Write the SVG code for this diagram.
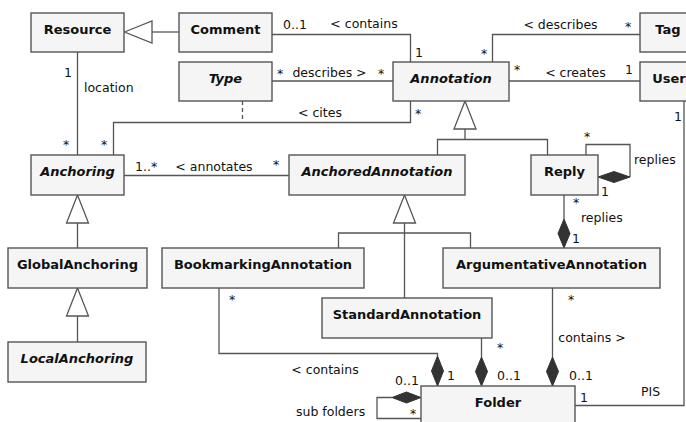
<svg xmlns="http://www.w3.org/2000/svg" width="686" height="422" viewBox="0 0 686 422">
<style>
.box{fill:#f5f5f5;stroke:#555;stroke-width:1.4}
.nm{font-family:"DejaVu Sans",Verdana,sans-serif;font-size:13px;font-weight:bold;fill:#111;text-anchor:middle}
.it{font-style:italic}
.ln{fill:none;stroke:#555;stroke-width:1.3}
.dash{fill:none;stroke:#555;stroke-width:1.3;stroke-dasharray:4 3}
.gen{fill:#fff;stroke:#555;stroke-width:1.3}
.dia{fill:#333;stroke:#333;stroke-width:1}
.lb{font-family:"DejaVu Sans",Verdana,sans-serif;font-size:12.5px;fill:#111}
.mid{text-anchor:middle}
</style>
<rect width="686" height="422" fill="#fff"/>
<g id="connectors">
  <line class="ln" x1="152" y1="32" x2="179" y2="32"/>
  <polygon class="gen" points="124.5,32 152,21 152,43"/>
  <polyline class="ln" points="272,34.5 410.5,34.5 410.5,62"/>
  <line class="ln" x1="272" y1="81" x2="393" y2="81"/>
  <polyline class="ln" points="410.5,101 410.5,122.5 113.5,122.5 113.5,155"/>
  <line class="dash" x1="242.5" y1="101" x2="242.5" y2="122"/>
  <line class="ln" x1="77.5" y1="52" x2="77.5" y2="155"/>
  <polyline class="ln" points="640,34.5 492.5,34.5 492.5,62"/>
  <line class="ln" x1="509" y1="81" x2="640" y2="81"/>
  <polyline class="ln" points="684,101 684,405.5 575,405.5"/>
  <polyline class="ln" points="437.5,155 437.5,139.5 547.5,139.5 547.5,155"/>
  <line class="ln" x1="465" y1="129" x2="465" y2="139.5"/>
  <polygon class="gen" points="465,101 454,129 476,129"/>
  <line class="ln" x1="124" y1="175.5" x2="289" y2="175.5"/>
  <line class="ln" x1="77.5" y1="223" x2="77.5" y2="248"/>
  <polygon class="gen" points="77.5,195 66.5,223 88.5,223"/>
  <line class="ln" x1="77.5" y1="316" x2="77.5" y2="342"/>
  <polygon class="gen" points="77.5,288 66.5,316 88.5,316"/>
  <polyline class="ln" points="338.5,248 338.5,233 470.5,233 470.5,248"/>
  <line class="ln" x1="404.5" y1="223" x2="404.5" y2="298"/>
  <polygon class="gen" points="404.5,195 393.5,223 415.5,223"/>
  <polyline class="ln" points="586,155 586,144.5 630,144.5 630,177"/>
  <polygon class="dia" points="598,177 614,171.5 630,177 614,182.5"/>
  <line class="ln" x1="564" y1="195" x2="564" y2="219"/>
  <polygon class="dia" points="564,219 570,233.5 564,248 558,233.5"/>
  <polyline class="ln" points="219,288 219,353.5 437.5,353.5 437.5,356"/>
  <polygon class="dia" points="437.5,356 443.5,371 437.5,386 431.5,371"/>
  <line class="ln" x1="481.5" y1="338" x2="481.5" y2="357"/>
  <polygon class="dia" points="481.5,357 487.5,371.5 481.5,386 475.5,371.5"/>
  <line class="ln" x1="552.5" y1="288" x2="552.5" y2="357"/>
  <polygon class="dia" points="552.5,357 558.5,371.5 552.5,386 546.5,371.5"/>
  <polyline class="ln" points="392,397.5 377,397.5 377,418.5 421,418.5"/>
  <polygon class="dia" points="421,397.5 406.5,392 392,397.5 406.5,403"/>
</g>

<g id="Resource"><rect class="box" x="31" y="13" width="93" height="39"/><text class="nm" x="77.5" y="33.5">Resource</text></g>
<g id="Comment"><rect class="box" x="179" y="13" width="93" height="39"/><text class="nm" x="225.5" y="33.5">Comment</text></g>
<g id="Type"><rect class="box" x="179" y="62" width="93" height="39"/><text class="nm it" x="225.5" y="82.5">Type</text></g>
<g id="Annotation"><rect class="box" x="393" y="62" width="116" height="39"/><text class="nm it" x="451" y="82.5">Annotation</text></g>
<g id="Tag"><rect class="box" x="640" y="13" width="56" height="39"/><text class="nm" x="668" y="33.5">Tag</text></g>
<g id="User"><rect class="box" x="640" y="62" width="58" height="39"/><text class="nm" x="669" y="82.5">User</text></g>
<g id="Anchoring"><rect class="box" x="31" y="155" width="93" height="40"/><text class="nm it" x="77.5" y="175.5">Anchoring</text></g>
<g id="AnchoredAnnotation"><rect class="box" x="289" y="155" width="176" height="40"/><text class="nm it" x="377" y="175.5">AnchoredAnnotation</text></g>
<g id="Reply"><rect class="box" x="531" y="155" width="67" height="40"/><text class="nm" x="564.5" y="175.5">Reply</text></g>
<g id="GlobalAnchoring"><rect class="box" x="8" y="248" width="139" height="40"/><text class="nm" x="77.5" y="268.5">GlobalAnchoring</text></g>
<g id="BookmarkingAnnotation"><rect class="box" x="162" y="248" width="202" height="40"/><text class="nm" x="263" y="268.5">BookmarkingAnnotation</text></g>
<g id="ArgumentativeAnnotation"><rect class="box" x="443" y="248" width="217" height="40"/><text class="nm" x="551.5" y="268.5">ArgumentativeAnnotation</text></g>
<g id="StandardAnnotation"><rect class="box" x="322" y="298" width="170" height="40"/><text class="nm" x="407" y="318.5">StandardAnnotation</text></g>
<g id="LocalAnchoring"><rect class="box" x="8" y="342" width="138" height="40"/><text class="nm it" x="77" y="362.5">LocalAnchoring</text></g>
<g id="Folder"><rect class="box" x="421" y="386" width="154" height="42"/><text class="nm" x="498" y="406.5">Folder</text></g>

<g id="labels">
  <text class="lb" x="283" y="29">0..1</text>
  <text class="lb mid" x="364" y="28">&lt; contains</text>
  <text class="lb" x="415" y="57">1</text>
  <text class="lb" x="277" y="78">*</text>
  <text class="lb mid" x="329.5" y="77">describes &gt;</text>
  <text class="lb" x="378" y="78">*</text>
  <text class="lb mid" x="320" y="117">&lt; cites</text>
  <text class="lb" x="415" y="118">*</text>
  <text class="lb" x="101" y="149">*</text>
  <text class="lb" x="63" y="149">*</text>
  <text class="lb" x="64" y="77">1</text>
  <text class="lb" x="84" y="92">location</text>
  <text class="lb" x="135" y="171">1..*</text>
  <text class="lb mid" x="214" y="171">&lt; annotates</text>
  <text class="lb" x="273" y="169">*</text>
  <text class="lb mid" x="560.5" y="29">&lt; describes</text>
  <text class="lb" x="625" y="31">*</text>
  <text class="lb" x="481" y="58">*</text>
  <text class="lb" x="514" y="74">*</text>
  <text class="lb mid" x="575.5" y="77">&lt; creates</text>
  <text class="lb" x="625" y="74">1</text>
  <text class="lb" x="674" y="121">1</text>
  <text class="lb" x="584" y="141">*</text>
  <text class="lb" x="634" y="164">replies</text>
  <text class="lb" x="601" y="195.5">1</text>
  <text class="lb" x="573" y="207">*</text>
  <text class="lb" x="581" y="222">replies</text>
  <text class="lb" x="572" y="243">1</text>
  <text class="lb" x="229" y="304">*</text>
  <text class="lb mid" x="325" y="374">&lt; contains</text>
  <text class="lb" x="447" y="380">1</text>
  <text class="lb" x="395" y="385">0..1</text>
  <text class="lb" x="296" y="416">sub folders</text>
  <text class="lb" x="410" y="418">*</text>
  <text class="lb" x="497" y="352">*</text>
  <text class="lb" x="497" y="380">0..1</text>
  <text class="lb" x="568" y="304">*</text>
  <text class="lb mid" x="592" y="342">contains &gt;</text>
  <text class="lb" x="569" y="380">0..1</text>
  <text class="lb" x="580" y="402">1</text>
  <text class="lb" x="641" y="396">PIS</text>
</g>
</svg>
